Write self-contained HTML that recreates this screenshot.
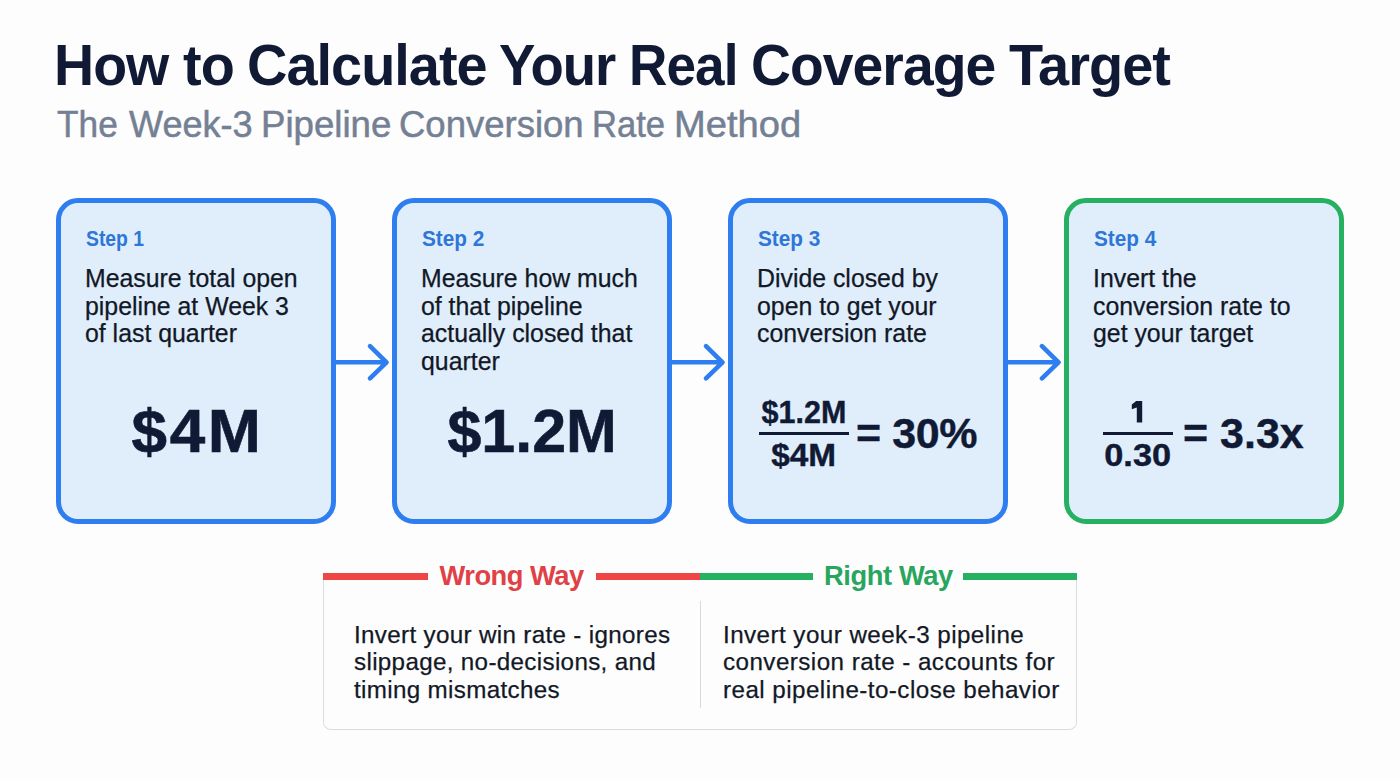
<!DOCTYPE html>
<html>
<head>
<meta charset="utf-8">
<style>
  html, body { margin:0; padding:0; }
  body { width:1400px; height:781px; overflow:hidden; background:#fdfdfd; position:relative;
         font-family:"Liberation Sans", sans-serif; }
  .abs { position:absolute; white-space:nowrap; }
  .sx { display:inline-block; }
  .title { top:30px; font-size:57.5px; line-height:70px; font-weight:700; color:#111a35; letter-spacing:-1px; }
  .title .sx { transform-origin:0 0; }
  .sub { left:56px; top:100px; font-size:36px; line-height:50px; font-weight:400; color:#748093; -webkit-text-stroke:0.5px #748093; }
  .sub .sx { transform-origin:0 0; }
  .box { position:absolute; top:198px; width:280px; height:326px; box-sizing:border-box;
         border:5px solid #2f7ef0; border-radius:22px; background:#e0eefc; }
  .box.green { border-color:#25b062; }
  .step { position:absolute; left:24.5px; top:21px; font-size:21.5px; line-height:30px; font-weight:700; color:#2e76d8; white-space:nowrap; }
  .step .sx { transform-origin:0 0; }
  .desc { position:absolute; left:24px; top:62px; font-size:24.85px; line-height:27.5px; color:#121826; white-space:nowrap; -webkit-text-stroke:0.25px #121826; }
  .big { position:absolute; left:0; width:270px; text-align:center; top:192.5px; font-size:62px; line-height:70px; font-weight:700; color:#111a35; white-space:nowrap; -webkit-text-stroke:0.6px #111a35; }
  .big .sx { transform-origin:50% 50%; }
  .fr { position:absolute; font-weight:700; color:#111a35; white-space:nowrap; text-align:center; -webkit-text-stroke:0.4px #111a35; }
  .fr .sx { transform-origin:50% 50%; }
  .fbar { position:absolute; height:3px; background:#111a35; }
  .cmp { position:absolute; left:323px; top:573px; width:754px; height:157px; box-sizing:border-box;
         border:1px solid #d9dce1; border-top:none; border-radius:0 0 8px 8px; }
  .bar { position:absolute; top:573px; height:7px; }
  .lbl { position:absolute; top:555.5px; font-size:27.3px; line-height:40px; font-weight:700; white-space:nowrap; }
  .cmptxt { position:absolute; top:620.6px; font-size:24.2px; line-height:27.45px; letter-spacing:0.33px; color:#121826; white-space:nowrap; -webkit-text-stroke:0.25px #121826; }
  .divider { position:absolute; left:700px; top:601px; width:1px; height:107px; background:#d6d9de; }
</style>
</head>
<body>
  <div class="abs title" style="left:54.34px"><span class="sx" style="transform:scaleX(0.9655)">How</span></div>
  <div class="abs title" style="left:183.33px"><span class="sx" style="transform:scaleX(0.9720)">to</span></div>
  <div class="abs title" style="left:246.66px"><span class="sx" style="transform:scaleX(0.9717)">Calculate</span></div>
  <div class="abs title" style="left:499.05px"><span class="sx" style="transform:scaleX(0.9484)">Your</span></div>
  <div class="abs title" style="left:629.20px"><span class="sx" style="transform:scaleX(0.9243)">Real</span></div>
  <div class="abs title" style="left:751.08px"><span class="sx" style="transform:scaleX(0.9614)">Coverage</span></div>
  <div class="abs title" style="left:1009.03px"><span class="sx" style="transform:scaleX(0.9727)">Target</span></div>
  <div class="abs sub" style="left:57.10px"><span class="sx" style="transform:scaleX(0.9789)">The</span></div>
  <div class="abs sub" style="left:128.60px"><span class="sx" style="transform:scaleX(1.0017)">Week-3</span></div>
  <div class="abs sub" style="left:261.33px"><span class="sx" style="transform:scaleX(1.0173)">Pipeline</span></div>
  <div class="abs sub" style="left:398.93px"><span class="sx" style="transform:scaleX(1.0137)">Conversion</span></div>
  <div class="abs sub" style="left:592.29px"><span class="sx" style="transform:scaleX(0.9611)">Rate</span></div>
  <div class="abs sub" style="left:674.01px"><span class="sx" style="transform:scaleX(1.0583)">Method</span></div>
  
  <div class="box" style="left:56px">
    <div class="step"><span class="sx" style="transform:scaleX(0.90)">Step 1</span></div>
    <div class="desc">Measure total open<br>pipeline at Week 3<br>of last quarter</div>
    <div class="big"><span class="sx" style="transform:scaleX(1.03); letter-spacing:2.5px; padding-left:2.5px">$4M</span></div>
  </div>
  <div class="box" style="left:392px">
    <div class="step"><span class="sx" style="transform:scaleX(0.967)">Step 2</span></div>
    <div class="desc">Measure how much<br>of that pipeline<br>actually closed that<br>quarter</div>
    <div class="big"><span class="sx" style="transform:scaleX(0.983)">$1.2M</span></div>
  </div>
  <div class="box" style="left:728px">
    <div class="step"><span class="sx" style="transform:scaleX(0.967)">Step 3</span></div>
    <div class="desc">Divide closed by<br>open to get your<br>conversion rate</div>
  </div>
  <div class="box green" style="left:1064px">
    <div class="step"><span class="sx" style="transform:scaleX(0.967)">Step 4</span></div>
    <div class="desc">Invert the<br>conversion rate to<br>get your target</div>
  </div>

  <!-- fraction 3 -->
  <div class="fr" style="left:744px; top:392px; width:120px; font-size:30.5px; line-height:40px;"><span class="sx">$1.2M</span></div>
  <div class="fbar" style="left:759px; top:432px; width:90px;"></div>
  <div class="fr" style="left:744px; top:435px; width:120px; font-size:30.5px; line-height:40px;"><span class="sx" style="transform:scaleX(1.094)">$4M</span></div>
  <div class="fr" style="left:856px; top:403px; font-size:43px; line-height:60px; text-align:left; letter-spacing:-0.4px;">= 30%</div>

  <!-- fraction 4 -->
  <svg style="position:absolute;left:0;top:0" width="1400" height="781"><polygon fill="#111a35" points="1136.2,401 1142.2,401 1142.2,422.6 1136.8,422.6 1136.8,407.6 1131.8,409.2 1131.8,404.4"/></svg>
  <div class="fbar" style="left:1103px; top:432px; width:70px;"></div>
  <div class="fr" style="left:1078px; top:435px; width:120px; font-size:30.5px; line-height:40px;"><span class="sx" style="transform:scaleX(1.125)">0.30</span></div>
  <div class="fr" style="left:1183px; top:403px; font-size:43px; line-height:60px; text-align:left;">= 3.3x</div>

  <!-- arrows -->
  <svg style="position:absolute;left:0;top:0" width="1400" height="781">
    <g fill="none" stroke="#2f7ef0" stroke-width="4.6" stroke-linecap="round" stroke-linejoin="round">
      <path d="M336 362.3 H385.5 M370 346.2 L386.5 362.3 L370 378.4"/>
      <path d="M672 362.3 H721.5 M706 346.2 L722.5 362.3 L706 378.4"/>
      <path d="M1008 362.3 H1057.5 M1042 346.2 L1058.5 362.3 L1042 378.4"/>
    </g>
  </svg>

  <!-- comparison -->
  <div class="cmp"></div>
  <div class="bar" style="left:323px; width:105px; background:#ee4545;"></div>
  <div class="bar" style="left:596px; width:104px; background:#ee4545;"></div>
  <div class="bar" style="left:700px; width:113px; background:#25b062;"></div>
  <div class="bar" style="left:963px; width:114px; background:#25b062;"></div>
  <div class="lbl" style="left:439.5px; color:#df4146; letter-spacing:-0.5px;">Wrong Way</div>
  <div class="lbl" style="left:824px; color:#28a65d; letter-spacing:-0.4px;">Right Way</div>
  <div class="divider"></div>
  <div class="cmptxt" style="left:354px;">Invert your win rate - ignores<br>slippage, no-decisions, and<br>timing mismatches</div>
  <div class="cmptxt" style="left:723px; letter-spacing:0.45px;">Invert your week-3 pipeline<br>conversion rate - accounts for<br>real pipeline-to-close behavior</div>
</body>
</html>
